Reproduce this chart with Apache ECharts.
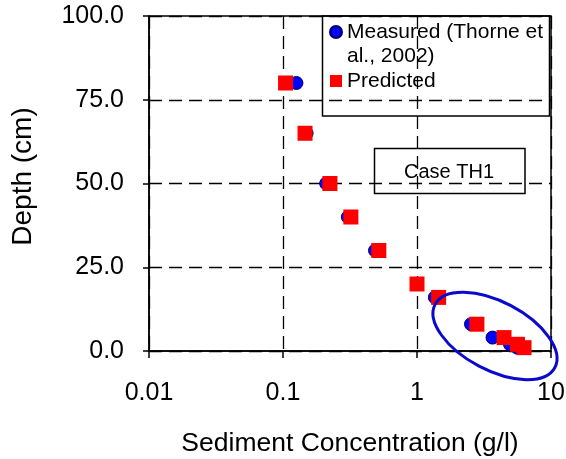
<!DOCTYPE html>
<html>
<head>
<meta charset="utf-8">
<script src="https://cdn.jsdelivr.net/npm/echarts@6/dist/echarts.min.js"></script>
<style>
  html, body { margin: 0; padding: 0; background: #fff; }
  #chart { width: 566px; height: 459px; }
</style>
</head>
<body>
<div id="chart"></div>
<script>
// depth of each sample (cm) and concentrations (g/l)
const depth = [80, 65, 50, 40, 30, 20, 16, 8, 4, 2, 1];
const measured = [0.126, 0.15, 0.21, 0.305, 0.486, 1.0, 1.36, 2.53, 3.66, 4.94, 5.6];
const predicted = [0.1045, 0.146, 0.224, 0.321, 0.519, 1.0, 1.45, 2.8, 4.46, 5.62, 6.29];
const xTicks = [0.01, 0.1, 1, 10];
const yTicks = [0, 25, 50, 75, 100];

const measuredName = 'Measured (Thorne et\nal., 2002)';
const predictedName = 'Predicted';

const FONT = '"Liberation Sans", Arial, sans-serif';
const dash = { color: '#000', type: [13, 7], width: 1.3 };

const chart = echarts.init(document.getElementById('chart'));

chart.setOption({
  animation: false,
  grid: {
    left: 149, right: 15, top: 16, bottom: 108,
    outerBoundsMode: 'none',
    show: true, borderColor: '#000', borderWidth: 1.5
  },
  legend: {
    orient: 'vertical',
    left: 329,
    top: -4,
    padding: 0,
    itemWidth: 12,
    itemHeight: 12,
    itemGap: 1,
    textStyle: { fontFamily: FONT, fontSize: 21, lineHeight: 24, color: '#000' },
    // empty first line keeps the marker level with the first text line
    formatter: name => (name === measuredName ? '\n' + name : name),
    data: [
      { name: measuredName, icon: 'circle' },
      { name: predictedName, icon: 'rect' }
    ]
  },
  xAxis: {
    type: 'log',
    logBase: 10,
    min: xTicks[0],
    max: xTicks[xTicks.length - 1],
    name: 'Sediment Concentration (g/l)',
    nameLocation: 'middle',
    nameGap: 79,
    nameTextStyle: { fontFamily: FONT, fontSize: 26.5, color: '#000' },
    axisLine: { lineStyle: { color: '#000', width: 1.5 } },
    axisTick: { show: true, length: 7, lineStyle: { color: '#000', width: 1.5 } },
    minorTick: { show: false },
    axisLabel: {
      margin: 30,
      fontFamily: FONT, fontSize: 25, color: '#000',
      formatter: v => String(parseFloat(v.toPrecision(3)))
    },
    splitLine: { show: true, lineStyle: dash }
  },
  yAxis: {
    type: 'value',
    min: yTicks[0],
    max: yTicks[yTicks.length - 1],
    interval: 25,
    name: 'Depth (cm)',
    nameLocation: 'middle',
    nameGap: 112,
    nameRotate: 90,
    nameTextStyle: { fontFamily: FONT, fontSize: 28, color: '#000', padding: [0, 0, 0, 14] },
    axisLine: { show: true, lineStyle: { color: '#000', width: 1.5 } },
    axisTick: { show: true, length: 6, lineStyle: { color: '#000', width: 1.5 } },
    axisLabel: {
      margin: 25,
      fontFamily: FONT, fontSize: 25, color: '#000',
      formatter: v => v.toFixed(1)
    },
    splitLine: { show: true, lineStyle: dash }
  },
  series: [
    {
      name: measuredName,
      type: 'scatter',
      symbol: 'circle',
      symbolSize: 13,
      itemStyle: { color: '#0000ff', borderColor: '#000066', borderWidth: 1, opacity: 1 },
      data: measured.map((c, i) => [c, depth[i]]),
      z: 3
    },
    {
      name: predictedName,
      type: 'scatter',
      symbol: 'rect',
      symbolSize: 15,
      itemStyle: { color: '#ff0000', opacity: 1 },
      data: predicted.map((c, i) => [c, depth[i]]),
      z: 4
    }
  ]
});

// annotations: legend frame, case label and the ellipse round the near-bed points
const ring = chart.convertToPixel({ gridIndex: 0 }, [3.82, 4.5]);
chart.setOption({
  graphic: [
    {
      type: 'rect',
      shape: { x: 322.5, y: 16, width: 227, height: 100 },
      style: { fill: 'none', stroke: '#000', lineWidth: 1.5 },
      z: 10
    },
    {
      type: 'rect',
      shape: { x: 374.5, y: 148.5, width: 150.5, height: 45 },
      style: { fill: 'none', stroke: '#000', lineWidth: 1.5 },
      z: 10
    },
    {
      type: 'text',
      x: 449, y: 172,
      style: {
        text: 'Case TH1', fontFamily: FONT, fontSize: 20, fill: '#000',
        align: 'center', verticalAlign: 'middle'
      },
      z: 10
    },
    {
      type: 'ellipse',
      x: ring[0], y: ring[1],
      rotation: -0.485,
      shape: { cx: 0, cy: 0, rx: 67.7, ry: 34.2 },
      style: { fill: 'none', stroke: '#0a0acc', lineWidth: 3 },
      z: 10
    }
  ]
});
</script>
</body>
</html>
